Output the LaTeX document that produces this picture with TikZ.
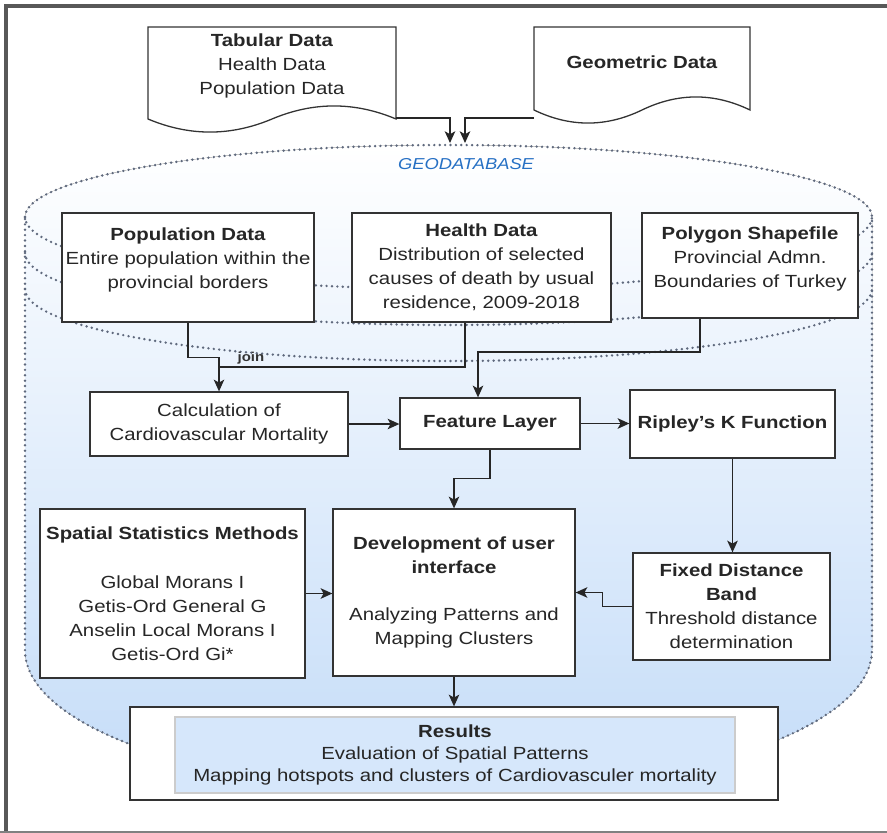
\documentclass[tikz,border=0pt]{standalone}
\usepackage{fontspec}
\setmainfont[FakeStretch=1.16]{Liberation Sans}
\usetikzlibrary{arrows.meta}
\definecolor{geoblue}{RGB}{196,220,248}
\definecolor{geotext}{RGB}{38,112,196}
\definecolor{dotgray}{RGB}{95,105,125}
\definecolor{innerblue}{RGB}{214,231,251}
\definecolor{framegray}{RGB}{88,88,88}
\newcommand{\pxu}{0.03cm}
\newcommand{\boxfont}{\fontsize{15}{20.4}\selectfont}
\tikzset{
	sz/.style 2 args={minimum width=#1*\pxu, minimum height=#2*\pxu},
	box/.style={draw=black!80, fill=white, line width=1.1pt, align=center, inner sep=0pt, text=black!85, font=\boxfont},
	docshape/.style={draw=black!80, fill=white, line width=1.1pt},
	doctext/.style={align=center, text=black!85, font=\boxfont},
	dotline/.style={dotgray, line width=2.3pt, dash pattern=on 0pt off 4.6pt, line cap=round},
	conn/.style={line width=1.1pt, black!85, -{Stealth[length=10pt,width=9pt,inset=2.5pt]}},
	plainconn/.style={line width=1.1pt, black!85}
}

\begin{document}
\begin{tikzpicture}[x=\pxu, y=-\pxu]
	\useasboundingbox (0,0) rectangle (887,833);
	\draw[framegray, line width=2.6pt] (6,833) -- (6,6) -- (887,6);
	\draw[gray, line width=1pt] (0,832) -- (887,832);

	\fill[top color=white, bottom color=geoblue] (25,217) arc[start angle=180, end angle=360, x radius=423.5, y radius=72] -- (872,650) arc[start angle=0, end angle=180, x radius=423.5, y radius=143] -- cycle;
	\draw[dotline] (25,217) arc[start angle=180, end angle=360, x radius=423.5, y radius=72] -- (872,650) arc[start angle=0, end angle=180, x radius=423.5, y radius=143] -- cycle;
	\draw[dotline] (25,217) arc[start angle=180, end angle=0, x radius=423.5, y radius=72];
	\draw[dotline] (25,253) arc[start angle=180, end angle=0, x radius=423.5, y radius=72];
	\draw[dotline] (25,289) arc[start angle=180, end angle=0, x radius=423.5, y radius=72];
	\node[font=\fontsize{13.5}{16}\selectfont\itshape, text=geotext] (geodb) at (466,164) {GEODATABASE};

	\draw[docshape] (148,27) -- (396,27) -- (396,119) .. controls (354.7,101.6) and (313.3,101.6) .. (272,119) .. controls (230.7,136.4) and (189.3,136.4) .. (148,119) -- cycle;
	\node[doctext] (tabular) at (272,66) {\textbf{Tabular Data}\\Health Data\\Population Data};
	\draw[docshape] (534,27) -- (750,27) -- (750,110) .. controls (714,92.6) and (678,92.6) .. (642,110) .. controls (606,127.4) and (570,127.4) .. (534,110) -- cycle;
	\node[doctext] (geometric) at (642,62) {\textbf{Geometric Data}};
	\coordinate (tabR) at (396,118);
	\coordinate (geoL) at (534,118);
	\coordinate (geoin1) at (450,143);
	\coordinate (geoin2) at (465,143);
	\draw[conn] (tabR) -| (geoin1);
	\draw[conn] (geoL) -| (geoin2);

	\node[box, sz={252}{109}] (popdata) at (188,267.5) {\textbf{Population Data}\\Entire population within the\\provincial borders\\[-4pt]\mbox{}};
	\node[box, sz={259}{109}] (healthdata) at (481.5,267.5) {\textbf{Health Data}\\Distribution of selected\\causes of death by usual\\residence, 2009-2018};
	\node[box, sz={216}{105}] (polygon) at (750,265.5) {\textbf{Polygon Shapefile}\\Provincial Admn.\\Boundaries of Turkey\\[-6pt]\mbox{}};
	\node[box, sz={258}{64}] (calc) at (219,424) {Calculation of\\Cardiovascular Mortality};
	\node[box, sz={180}{51}] (feature) at (490,423.5) {\textbf{Feature Layer}};
	\node[box, sz={205}{68}] (ripley) at (732.5,424) {\textbf{Ripley's K Function}};
	\node[box, sz={265}{169}] (spatial) at (172.5,593.5) {\textbf{Spatial Statistics Methods}\\[22pt]Global Morans I\\Getis-Ord General G\\Anselin Local Morans I\\Getis-Ord Gi*};
	\node[box, sz={242}{167}] (devui) at (454,592.5) {\textbf{Development of user}\\\textbf{interface}\\[20.4pt]Analyzing Patterns and\\Mapping Clusters};
	\node[box, sz={197}{107}] (fixedband) at (731.5,606.5) {\textbf{Fixed Distance}\\\textbf{Band}\\Threshold distance\\determination};
	\node[box, sz={648}{93}] (results) at (454,753.5) {};
	\node[box, sz={560}{76}, draw=black!20, fill=innerblue, font=\fontsize{15}{18.7}\selectfont] (resultsin) at (455,755) {\textbf{Results}\\Evaluation of Spatial Patterns\\Mapping hotspots and clusters of Cardiovasculer mortality};

	\coordinate (joinpt) at (219,367);
	\draw[conn] (popdata.south) -- ++(0,35) -| (calc.north);
	\draw[plainconn] (465,0 |- healthdata.south) |- node[pos=0.935, above=-1.5pt, font=\fontsize{11}{12}\bfseries\selectfont, text=black!80] (joinlbl) {join} (joinpt);
	\draw[conn] (700,0 |- polygon.south) |- (478,352) -- (478,0 |- feature.north);
	\draw[conn] (calc.east) -- (calc.east -| feature.west);
	\draw[conn] (feature.east) -- (feature.east -| ripley.west);
	\draw[conn] (feature.south) -- ++(0,29) -| (devui.north);
	\draw[conn] (ripley.south) -- (ripley.south |- fixedband.north);
	\draw[conn] (fixedband.west) -- ++(-30,0) |- (devui.east);
	\draw[conn] (spatial.east) -- (spatial.east -| devui.west);
	\draw[conn] (devui.south) -- (results.north);
\end{tikzpicture}
\end{document}
